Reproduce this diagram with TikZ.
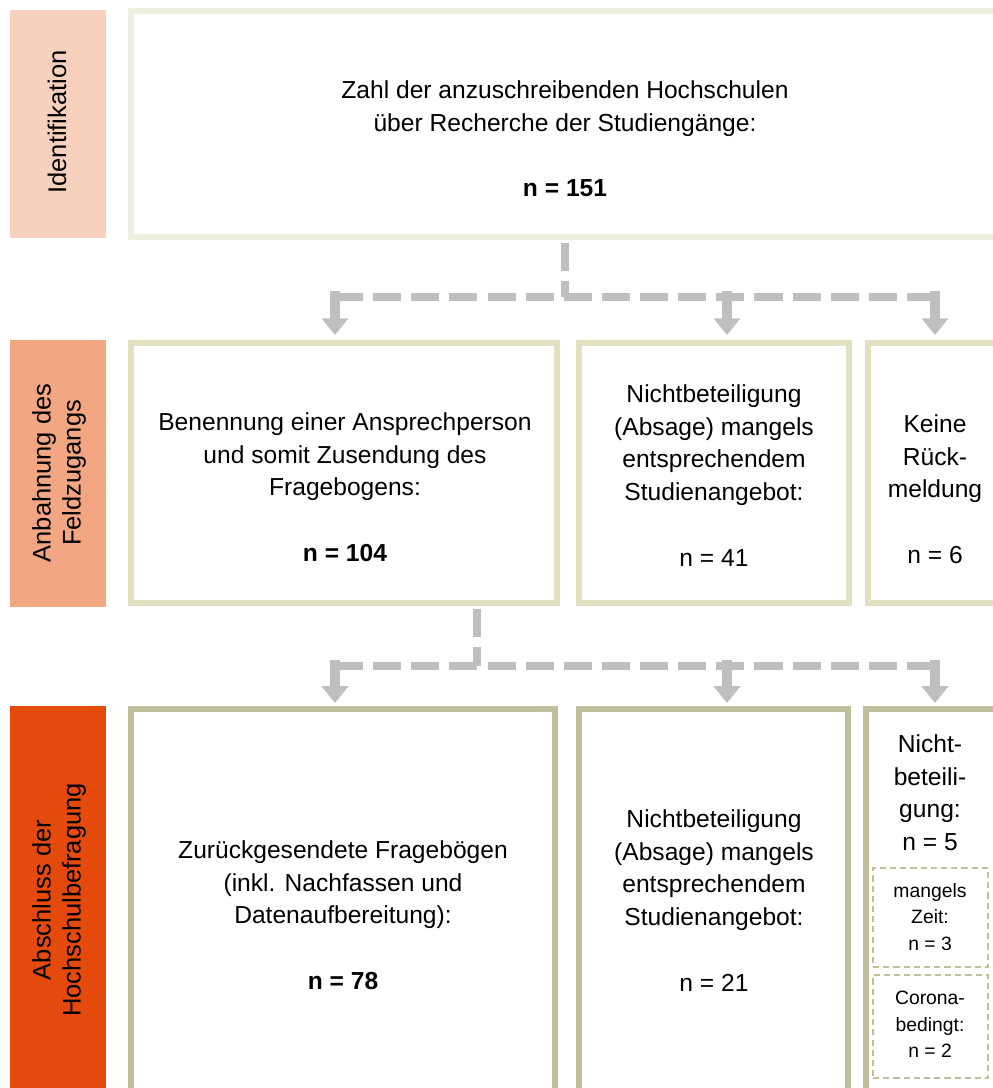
\documentclass[tikz,border=0pt]{standalone}
\usepackage{fontspec}
\setmainfont{Liberation Sans}
\usetikzlibrary{arrows.meta,calc}

\definecolor{phaseA}{HTML}{F8D0BE}
\definecolor{phaseB}{HTML}{F2A682}
\definecolor{phaseC}{HTML}{E34A0C}
\definecolor{frameA}{HTML}{EFEFDF}
\definecolor{frameB}{HTML}{E1E1C2}
\definecolor{frameC}{HTML}{BFBF9C}
\definecolor{flowgray}{HTML}{BFBFBF}

\newcommand{\mainsz}{\fontsize{14}{18.7}\selectfont}
\newcommand{\smallsz}{\fontsize{11}{15}\selectfont}
\newcommand{\sidesz}{\fontsize{14.5}{17}\selectfont}

\tikzset{
    phase/.style={fill=#1, inner sep=0pt, minimum width=1.92cm},
    phaselabel/.style={rotate=90, font=\sidesz, align=center, inner sep=0pt},
    box/.style={draw=#1, line width=3.4pt, fill=white, inner sep=0pt},
    subbox/.style={draw=frameC, line width=0.8pt, dash pattern=on 3.5pt off 2.3pt,
        inner sep=0pt, minimum width=2.3cm},
    txt/.style={font=\mainsz, align=center, inner sep=0pt, anchor=north},
    smalltxt/.style={font=\smallsz, align=center, inner sep=0pt, anchor=north},
    flowline/.style={draw=flowgray, line width=4pt, dash pattern=on 16pt off 5.7pt},
    blockarrow/.style={draw=flowgray, line width=5.7pt,
        -{Triangle[width=14.7pt,length=9.6pt]}}
}

\begin{document}
\begin{tikzpicture}[x=0.02cm, y=-0.02cm]
    \useasboundingbox (0,0) rectangle (993,1088);
    \clip (0,0) rectangle (993,1088);
    \fill[white] (0,0) rectangle (993,1088);

    % phases
    \node[phase=phaseA, minimum height=4.56cm] (s1) at (58,124) {};
    \node[phase=phaseB, minimum height=5.34cm] (s2) at (58,473.5) {};
    \node[phase=phaseC, minimum height=7.88cm] (s3) at (58,903) {};
    \node[phaselabel] (s1l) at (57,122) {Identifikation};
    \node[phaselabel] (s2l) at (59,473) {Anbahnung des\\Feldzugangs};
    \node[phaselabel] (s3l) at (59,900) {Abschluss der\\Hochschulbefragung};

    % boxes
    \node[box=frameA, minimum width=17.36cm, minimum height=4.52cm] (ident) at (565,124) {};
    \node[box=frameB, minimum width=8.52cm, minimum height=5.2cm] (b1) at (344,473) {};
    \node[box=frameB, minimum width=5.4cm, minimum height=5.2cm] (b2) at (714,473) {};
    \node[box=frameB, minimum width=2.84cm, minimum height=5.2cm] (b3) at (939,473) {};
    \node[box=frameC, minimum width=8.48cm, minimum height=7.82cm] (c1) at (343,904.5) {};
    \node[box=frameC, minimum width=5.38cm, minimum height=7.82cm] (c2) at (713.5,904.5) {};
    \node[box=frameC, minimum width=2.88cm, minimum height=7.82cm] (c3) at (938,904.5) {};
    \node[subbox, minimum height=1.98cm] (sub1) at (930.5,917.5) {};
    \node[subbox, minimum height=2.06cm] (sub2) at (930.5,1026.5) {};

    % texts
    \node[txt] (identt) at (565,80) {Zahl der anzuschreibenden Hochschulen\\
        über Recherche der Studiengänge:\\[18.7pt] \textbf{n = 151}};
    \node[txt] (b1t) at (345,412) {Benennung einer Ansprechperson\\
        und somit Zusendung des\\Fragebogens:\\[18.7pt] \textbf{n = 104}};
    \node[txt] (b2t) at (714,384) {Nichtbeteiligung\\(Absage) mangels\\
        entsprechendem\\Studienangebot:\\[18.7pt] n = 41};
    \node[txt] (b3t) at (935,414) {Keine\\Rück-\\meldung\\[18.7pt] n = 6};
    \node[txt] (c1t) at (343,840) {Zurückgesendete Fragebögen\\
        (inkl. Nachfassen und\\Datenaufbereitung):\\[18.7pt] \textbf{n = 78}};
    \node[txt] (c2t) at (714,809) {Nichtbeteiligung\\(Absage) mangels\\
        entsprechendem\\Studienangebot:\\[18.7pt] n = 21};
    \node[txt] (c3t) at (930,734) {Nicht-\\beteili-\\gung:\\n = 5};
    \node[smalltxt] (sub1t) at (930,883) {mangels\\Zeit:\\n = 3};
    \node[smalltxt] (sub2t) at (930,991) {Corona-\\bedingt:\\n = 2};

    % connectors
    \coordinate (j1) at (565,297);
    \coordinate (j2) at (477,666);
    \coordinate (a1) at (335,297);
    \coordinate (a2) at (727,297);
    \coordinate (a3) at (935,297);
    \coordinate (d1) at (335,666);
    \coordinate (d2) at (727,666);
    \coordinate (d3) at (935,666);

    \draw[flowline] ($(ident.south)+(0,3)$) -- (j1);
    \draw[flowline] (a1) -- (a3);
    \draw[flowline] ($(b1.south -| j2)+(0,3)$) -- (j2);
    \draw[flowline] (d1) -- (d3);

    \foreach \a/\b in {a1/b1,a2/b2,a3/b3}
    {
        \draw[blockarrow, shorten >=2.8pt] ($(\a)+(0,-6)$) -- (\a |- \b.north);
    }
    \foreach \a/\b in {d1/c1,d2/c2,d3/c3}
    {
        \draw[blockarrow, shorten >=1.7pt] ($(\a)+(0,-6)$) -- (\a |- \b.north);
    }
\end{tikzpicture}
\end{document}
